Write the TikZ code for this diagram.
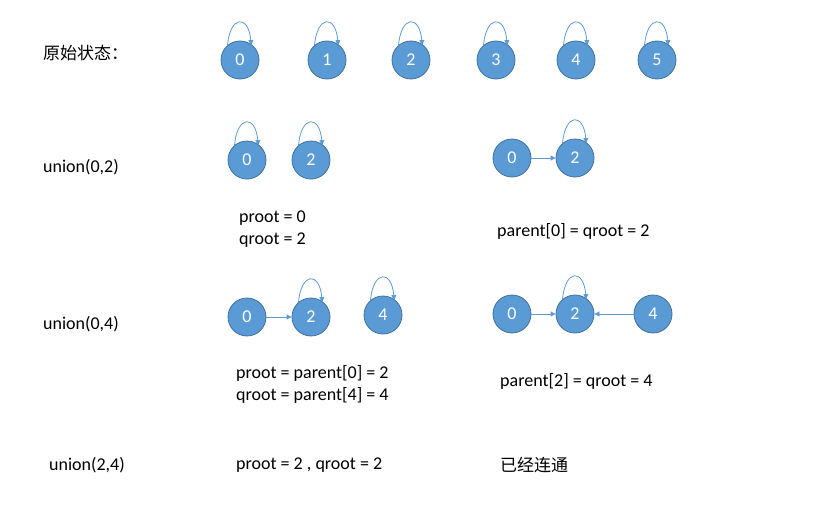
\documentclass[tikz,border=0pt]{standalone}
\usepackage{fontspec}
\setmainfont{Carlito}
\newfontfamily\cjk{Noto Sans CJK SC}
\usetikzlibrary{arrows.meta}
\definecolor{nodeblue}{HTML}{5B9BD5}
\definecolor{nodeedge}{HTML}{41719C}

\begin{document}
\begin{tikzpicture}[x=1pt,y=-1pt,
  vertex/.style={circle,draw=nodeedge,fill=nodeblue,line width=0.8pt,minimum size=38pt,inner sep=0pt,text=white,font=\fontsize{18}{21}\selectfont},
  lbl/.style={anchor=west,inner sep=0pt,font=\fontsize{18}{22}\selectfont},
  arr/.style={draw=nodeblue,line width=0.8pt,-{Triangle[length=5pt,width=5pt]}},
  self/.style={arr,shorten >=-1pt}]
  \useasboundingbox (0,0) rectangle (823,506);
  % initial state
  \node[lbl] (t0) at (43,53) {\cjk\fontsize{17}{20}\selectfont 原始状态：};
  \foreach \n/\x in {0/240,1/327,2/411,3/496,4/576,5/657}
    \node[vertex] (s\n) at (\x,60) {\n};
  \foreach \n in {0,...,5}
    \draw[self] (s\n.130) .. controls +(85:30pt) and +(95:30pt) .. (s\n.55);
  % union(0,2)
  \node[lbl] (t1) at (43,167) {union(0,2)};
  \node[vertex] (a0) at (247,160) {0};
  \node[vertex] (a2) at (311,160) {2};
  \draw[self] (a0.130) .. controls +(85:30pt) and +(95:30pt) .. (a0.55);
  \draw[self] (a2.130) .. controls +(85:30pt) and +(95:30pt) .. (a2.55);
  \node[lbl] (p1) at (239,218) {proot = 0};
  \node[lbl] (q1) at (239,240) {qroot = 2};
  \node[vertex] (b0) at (512,158) {0};
  \node[vertex] (b2) at (575,158) {2};
  \draw[self] (b2.130) .. controls +(85:30pt) and +(95:30pt) .. (b2.55);
  \draw[arr] (b0) -- (b2);
  \node[lbl] (r1) at (497,231) {parent[0] = qroot = 2};
  % union(0,4)
  \node[lbl] (t2) at (43,324) {union(0,4)};
  \node[vertex] (c0) at (247,317) {0};
  \node[vertex] (c2) at (311,317) {2};
  \node[vertex] (c4) at (383,315) {4};
  \draw[self] (c2.130) .. controls +(85:30pt) and +(95:30pt) .. (c2.55);
  \draw[self] (c4.130) .. controls +(85:30pt) and +(95:30pt) .. (c4.55);
  \draw[arr] (c0) -- (c2);
  \node[lbl] (p2) at (236,373) {proot = parent[0] = 2};
  \node[lbl] (q2) at (236,395) {qroot = parent[4] = 4};
  \node[vertex] (d0) at (512,314) {0};
  \node[vertex] (d2) at (575,314) {2};
  \node[vertex] (d4) at (653,314) {4};
  \draw[self] (d2.130) .. controls +(85:30pt) and +(95:30pt) .. (d2.55);
  \draw[arr] (d0) -- (d2);
  \draw[arr] (d4) -- (d2);
  \node[lbl] (r2) at (500,381) {parent[2] = qroot = 4};
  % union(2,4)
  \node[lbl] (t3) at (49,465) {union(2,4)};
  \node[lbl] (p3) at (236,465) {proot = 2 , qroot = 2};
  \node[lbl] (r3) at (500,465) {\cjk\fontsize{17}{20}\selectfont 已经连通};
\end{tikzpicture}
\end{document}
